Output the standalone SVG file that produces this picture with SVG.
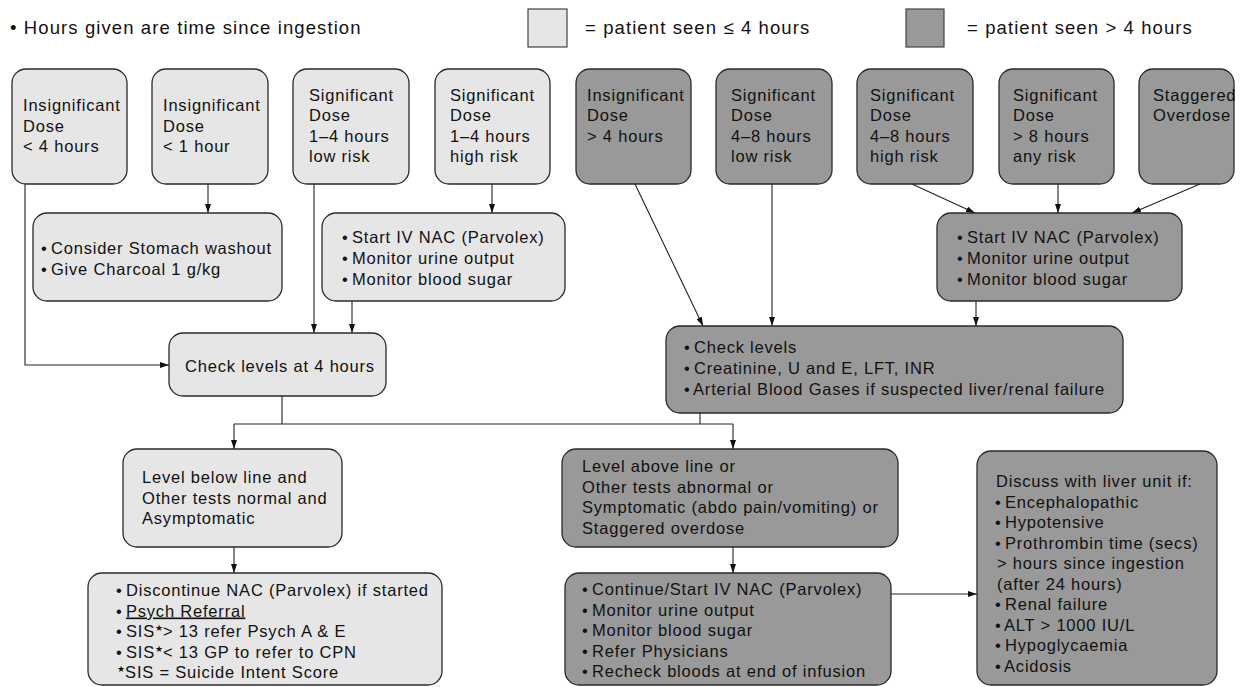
<svg xmlns="http://www.w3.org/2000/svg" width="1246" height="687" viewBox="0 0 1246 687">
<style>
  .lt { fill: #e6e6e6; stroke: #2a2a2a; stroke-width: 1.3; }
  .dk { fill: #999999; stroke: #2a2a2a; stroke-width: 1.3; }
  .sq { stroke: #444; stroke-width: 1.2; }
  text { font-family: "Liberation Sans", Arial, sans-serif; font-size: 16.5px; letter-spacing: 0.8px; fill: #111; }
  .hd { font-size: 18.5px; letter-spacing: 1.1px; }
  .star { font-family: "DejaVu Sans", sans-serif; font-size: 9px; letter-spacing: 0; }
  .cn { fill: none; stroke: #222; stroke-width: 1.1; }
  .ar { marker-end: url(#arr); }
</style>
<defs>
  <marker id="arr" viewBox="0 0 9 6" refX="9" refY="3" markerWidth="9" markerHeight="6" markerUnits="userSpaceOnUse" orient="auto">
    <path d="M0,0 L9,3 L0,6 z" fill="#111"/>
  </marker>
</defs>
<rect width="1246" height="687" fill="#ffffff"/>

<g id="legend">
  <text class="hd" x="10" y="34">• Hours given are time since ingestion</text>
  <rect class="lt sq" x="528" y="9" width="39" height="38"/>
  <text class="hd" x="585" y="34">= patient seen ≤ 4 hours</text>
  <rect class="dk sq" x="906" y="9" width="38" height="38"/>
  <text class="hd" x="967" y="34">= patient seen &gt; 4 hours</text>
</g>

<g id="connectors">
  <path class="cn ar" d="M25,184 V365 H169"/>
  <path class="cn ar" d="M208,184 V213"/>
  <path class="cn ar" d="M314,184 V333"/>
  <path class="cn ar" d="M492,184 V213"/>
  <path class="cn ar" d="M352,301 V333"/>
  <path class="cn" d="M282,396 V424"/>
  <path class="cn" d="M700,413 V424"/>
  <path class="cn" d="M234,424 H733"/>
  <path class="cn ar" d="M234,424 V449"/>
  <path class="cn ar" d="M733,424 V449"/>
  <path class="cn ar" d="M635,184 L703,326"/>
  <path class="cn ar" d="M772,184 V326"/>
  <path class="cn ar" d="M912,184 L975,213"/>
  <path class="cn ar" d="M1058,184 V213"/>
  <path class="cn ar" d="M1200,184 L1132,213"/>
  <path class="cn ar" d="M976,301 V326"/>
  <path class="cn ar" d="M234,547 V573"/>
  <path class="cn ar" d="M733,547 V573"/>
  <path class="cn ar" d="M891,594 H977"/>
</g>

<g id="n1">
  <rect class="lt" x="12" y="69" width="115" height="115" rx="14"/>
  <text x="23" y="111">Insignificant</text>
  <text x="23" y="131.5">Dose</text>
  <text x="23" y="152">&lt; 4 hours</text>
</g>
<g id="n2">
  <rect class="lt" x="152" y="69" width="116" height="115" rx="14"/>
  <text x="163" y="111">Insignificant</text>
  <text x="163" y="131.5">Dose</text>
  <text x="163" y="152">&lt; 1 hour</text>
</g>
<g id="n3">
  <rect class="lt" x="293" y="69" width="116" height="115" rx="14"/>
  <text x="309" y="100.5">Significant</text>
  <text x="309" y="121">Dose</text>
  <text x="309" y="141.5">1–4 hours</text>
  <text x="309" y="162">low risk</text>
</g>
<g id="n4">
  <rect class="lt" x="435" y="69" width="115" height="115" rx="14"/>
  <text x="450" y="100.5">Significant</text>
  <text x="450" y="121">Dose</text>
  <text x="450" y="141.5">1–4 hours</text>
  <text x="450" y="162">high risk</text>
</g>
<g id="n5">
  <rect class="dk" x="576" y="69" width="115" height="115" rx="14"/>
  <text x="587" y="100.5">Insignificant</text>
  <text x="587" y="121">Dose</text>
  <text x="587" y="141.5">&gt; 4 hours</text>
</g>
<g id="n6">
  <rect class="dk" x="716" y="69" width="116" height="115" rx="14"/>
  <text x="731" y="100.5">Significant</text>
  <text x="731" y="121">Dose</text>
  <text x="731" y="141.5">4–8 hours</text>
  <text x="731" y="162">low risk</text>
</g>
<g id="n7">
  <rect class="dk" x="857" y="69" width="116" height="115" rx="14"/>
  <text x="870" y="100.5">Significant</text>
  <text x="870" y="121">Dose</text>
  <text x="870" y="141.5">4–8 hours</text>
  <text x="870" y="162">high risk</text>
</g>
<g id="n8">
  <rect class="dk" x="999" y="69" width="115" height="115" rx="14"/>
  <text x="1013" y="100.5">Significant</text>
  <text x="1013" y="121">Dose</text>
  <text x="1013" y="141.5">&gt; 8 hours</text>
  <text x="1013" y="162">any risk</text>
</g>
<g id="n9">
  <rect class="dk" x="1139" y="69" width="95" height="115" rx="14"/>
  <text x="1153" y="100.5">Staggered</text>
  <text x="1153" y="121">Overdose</text>
</g>

<g id="n10">
  <rect class="lt" x="33" y="213" width="249" height="88" rx="14"/>
  <text x="41" y="254">•<tspan dx="-2"> Consider Stomach washout</tspan></text>
  <text x="41" y="275">•<tspan dx="-2"> Give Charcoal 1 g/kg</tspan></text>
</g>
<g id="n11">
  <rect class="lt" x="322" y="213" width="243" height="88" rx="14"/>
  <text x="342" y="243">•<tspan dx="-2"> Start IV NAC (Parvolex)</tspan></text>
  <text x="342" y="264">•<tspan dx="-2"> Monitor urine output</tspan></text>
  <text x="342" y="284.5">•<tspan dx="-2"> Monitor blood sugar</tspan></text>
</g>
<g id="n12">
  <rect class="dk" x="937" y="213" width="245" height="88" rx="14"/>
  <text x="957" y="243">•<tspan dx="-2"> Start IV NAC (Parvolex)</tspan></text>
  <text x="957" y="264">•<tspan dx="-2"> Monitor urine output</tspan></text>
  <text x="957" y="284.5">•<tspan dx="-2"> Monitor blood sugar</tspan></text>
</g>

<g id="n13">
  <rect class="lt" x="169" y="333" width="217" height="63" rx="14"/>
  <text x="185" y="372">Check levels at 4 hours</text>
</g>
<g id="n14">
  <rect class="dk" x="666" y="326" width="457" height="87" rx="14"/>
  <text x="684" y="353">•<tspan dx="-2"> Check levels</tspan></text>
  <text x="684" y="374">•<tspan dx="-2"> Creatinine, U and E, LFT, INR</tspan></text>
  <text x="684" y="394.5">•<tspan dx="-2"> Arterial Blood Gases if suspected liver/renal failure</tspan></text>
</g>

<g id="n15">
  <rect class="lt" x="123" y="449" width="219" height="98" rx="14"/>
  <text x="142" y="483">Level below line and</text>
  <text x="142" y="503.5">Other tests normal and</text>
  <text x="142" y="524">Asymptomatic</text>
</g>
<g id="n16">
  <rect class="dk" x="562" y="449" width="336" height="98" rx="14"/>
  <text x="582" y="472">Level above line or</text>
  <text x="582" y="492.5">Other tests abnormal or</text>
  <text x="582" y="513">Symptomatic (abdo pain/vomiting) or</text>
  <text x="582" y="533.5">Staggered overdose</text>
</g>
<g id="n17">
  <rect class="dk" x="977" y="451" width="240" height="234" rx="14"/>
  <text x="996" y="487">Discuss with liver unit if:</text>
  <text x="995" y="507.5">•<tspan dx="-2"> Encephalopathic</tspan></text>
  <text x="995" y="528">•<tspan dx="-2"> Hypotensive</tspan></text>
  <text x="995" y="548.5">•<tspan dx="-2"> Prothrombin time (secs)</tspan></text>
  <text x="997" y="569">&gt; hours since ingestion</text>
  <text x="997" y="589.5">(after 24 hours)</text>
  <text x="995" y="610">•<tspan dx="-2"> Renal failure</tspan></text>
  <text x="995" y="630.5">•<tspan dx="-2"> ALT &gt; 1000 IU/L</tspan></text>
  <text x="995" y="651">•<tspan dx="-2"> Hypoglycaemia</tspan></text>
  <text x="995" y="671.5">•<tspan dx="-2"> Acidosis</tspan></text>
</g>

<g id="n18">
  <rect class="lt" x="88" y="573" width="354" height="112" rx="14"/>
  <text x="116" y="596">•<tspan dx="-2"> Discontinue NAC (Parvolex) if started</tspan></text>
  <text x="116" y="616.5">•<tspan dx="-2"> </tspan><tspan text-decoration="underline">Psych Referral</tspan></text>
  <text x="116" y="637">•<tspan dx="-2"> SIS</tspan><tspan class="star" dy="-6">★</tspan><tspan dy="6">&gt; 13 refer Psych A &amp; E</tspan></text>
  <text x="116" y="657.5">•<tspan dx="-2"> SIS</tspan><tspan class="star" dy="-6">★</tspan><tspan dy="6">&lt; 13 GP to refer to CPN</tspan></text>
  <text x="117" y="678"><tspan class="star" dy="-6">★</tspan><tspan dy="6">SIS = Suicide Intent Score</tspan></text>
</g>
<g id="n19">
  <rect class="dk" x="565" y="573" width="326" height="112" rx="14"/>
  <text x="582" y="595">•<tspan dx="-2"> Continue/Start IV NAC (Parvolex)</tspan></text>
  <text x="582" y="615.5">•<tspan dx="-2"> Monitor urine output</tspan></text>
  <text x="582" y="636">•<tspan dx="-2"> Monitor blood sugar</tspan></text>
  <text x="582" y="656.5">•<tspan dx="-2"> Refer Physicians</tspan></text>
  <text x="582" y="677">•<tspan dx="-2"> Recheck bloods at end of infusion</tspan></text>
</g>
</svg>
